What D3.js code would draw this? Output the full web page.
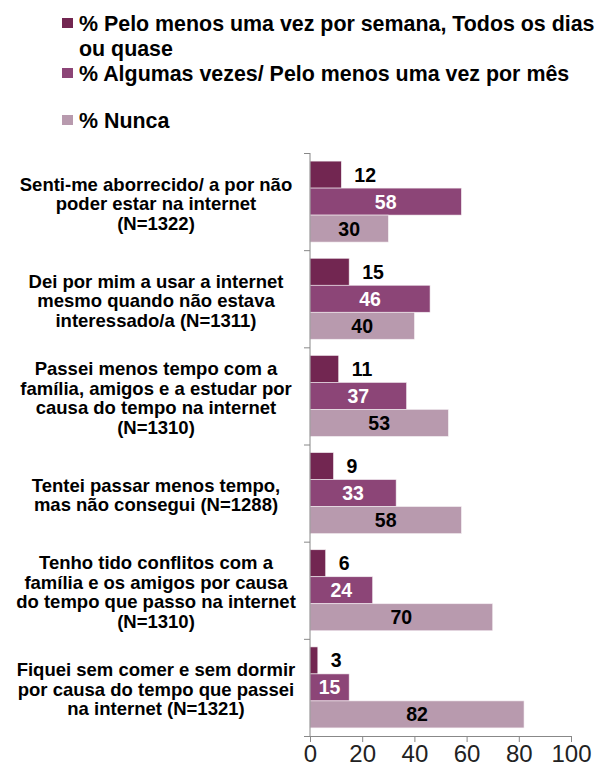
<!DOCTYPE html>
<html>
<head>
<meta charset="utf-8">
<script src="https://cdn.jsdelivr.net/npm/d3@7"></script>
<style>
  body { margin: 0; background: #fff; }
  text { font-family: Arial, "Liberation Sans", sans-serif; }
</style>
</head>
<body>
<div id="chart"></div>
<script>
// Chart data
var categories = [
    ["Senti-me aborrecido/ a por não", "poder estar na internet", "(N=1322)"],
    ["Dei por mim a usar a internet", "mesmo quando não estava", "interessado/a (N=1311)"],
    ["Passei menos tempo com a", "família, amigos e a estudar por", "causa do tempo na internet", "(N=1310)"],
    ["Tentei passar menos tempo,", "mas não consegui (N=1288)"],
    ["Tenho tido conflitos com a", "família e os amigos por causa", "do tempo que passo na internet", "(N=1310)"],
    ["Fiquei sem comer e sem dormir", "por causa do tempo que passei", "na internet (N=1321)"]
];
var seriesNames = [
    ["% Pelo menos uma vez por semana, Todos os dias", "ou quase"],
    ["% Algumas vezes/ Pelo menos uma vez por mês"],
    ["% Nunca"]
];
var weekly = [12, 15, 11, 9, 6, 3];
var sometimes = [58, 46, 37, 33, 24, 15];
var never = [30, 40, 53, 58, 70, 82];
var xTicks = [0, 20, 40, 60, 80, 100];

var colors = ["#722651", "#8c4577", "#b89aae"];
var allSeries = [weekly, sometimes, never];

var svg = d3.select("#chart")
    .append("svg")
    .attr("width", 595)
    .attr("height", 769);

// scales
var x = d3.scaleLinear().domain([0, 100]).range([310, 571]);
var y = d3.scaleBand().domain(d3.range(categories.length)).range([153, 736]);
var yInner = d3.scaleBand().domain([0, 1, 2]).range([0, y.bandwidth()]).paddingOuter(0.3);
var yEdges = d3.scaleLinear().domain([0, categories.length]).range([153, 736]);

// bars + labels, one group per category
var groups = svg.selectAll("g.cat")
    .data(categories)
    .enter()
    .append("g")
    .attr("class", "cat")
    .attr("transform", function(d, i) { return "translate(0," + y(i) + ")"; });

groups.selectAll("rect")
    .data(function(d, i) { return allSeries.map(function(s, k) { return {k: k, v: s[i]}; }); })
    .enter()
    .append("rect")
    .attr("x", x(0))
    .attr("y", function(d) { return yInner(d.k); })
    .attr("width", function(d) { return x(d.v) - x(0); })
    .attr("height", yInner.bandwidth())
    .attr("fill", function(d) { return colors[d.k]; })
    .attr("stroke", "#f4eef2")
    .attr("stroke-width", 0.6);

groups.selectAll("text.val")
    .data(function(d, i) { return allSeries.map(function(s, k) { return {k: k, v: s[i]}; }); })
    .enter()
    .append("text")
    .attr("class", "val")
    .attr("x", function(d) {
        if (d.k == 0) return x(d.v) + 13;   // outside end
        return (x(0) + x(d.v)) / 2;          // centred
    })
    .attr("y", function(d) { return yInner(d.k) + yInner.bandwidth() / 2; })
    .attr("dy", "0.36em")
    .attr("text-anchor", function(d) { return d.k == 0 ? "start" : "middle"; })
    .attr("fill", function(d) { return d.k == 1 ? "#fff" : "#000"; })
    .style("font-size", "19.5px")
    .style("font-weight", "bold")
    .text(function(d) { return d.v; });

// category labels (multi-line, centred)
var lineH = 19.5;
groups.append("text")
    .attr("class", "cat-label")
    .attr("text-anchor", "middle")
    .style("font-size", "18.5px")
    .style("font-weight", "bold")
    .attr("fill", "#000")
    .each(function(lines) {
        var t = d3.select(this);
        var top = y.bandwidth() / 2 + 2 - (lines.length - 1) * lineH / 2;
        lines.forEach(function(line, j) {
            t.append("tspan")
                .attr("x", 156)
                .attr("y", top + j * lineH)
                .attr("dy", "0.35em")
                .text(line);
        });
    });

// y axis: line with ticks at category edges
var yAxis = svg.append("g")
    .attr("transform", "translate(" + x(0) + ",0)")
    .call(d3.axisLeft(yEdges).ticks(categories.length).tickSize(6).tickFormat(""));
yAxis.select(".domain").attr("stroke", "#888").attr("d", "M0,153V736");
yAxis.selectAll(".tick line").attr("stroke", "#888");

// x axis
var xAxis = svg.append("g")
    .attr("transform", "translate(0,736)")
    .call(d3.axisBottom(x).tickValues(xTicks).tickSize(6).tickPadding(3).tickSizeOuter(0));
xAxis.select(".domain").attr("stroke", "#888");
xAxis.selectAll(".tick line").attr("stroke", "#888");
xAxis.selectAll(".tick text")
    .attr("fill", "#222")
    .style("font-size", "24px")
    .style("font-family", "Arial, 'Liberation Sans', sans-serif");

// legend
var legendY = [23, 73, 120];
var legend = svg.selectAll("g.legend")
    .data(seriesNames)
    .enter()
    .append("g")
    .attr("class", "legend")
    .attr("transform", function(d, i) { return "translate(62," + legendY[i] + ")"; });

legend.append("rect")
    .attr("x", 0)
    .attr("y", -5)
    .attr("width", 11)
    .attr("height", 10)
    .attr("fill", function(d, i) { return colors[i]; });

legend.append("text")
    .style("font-size", "21.4px")
    .style("font-weight", "bold")
    .attr("fill", "#000")
    .each(function(lines) {
        var t = d3.select(this);
        lines.forEach(function(line, j) {
            t.append("tspan")
                .attr("x", 17)
                .attr("y", j * 25)
                .attr("dy", "0.36em")
                .text(line);
        });
    });
</script>
</body>
</html>
